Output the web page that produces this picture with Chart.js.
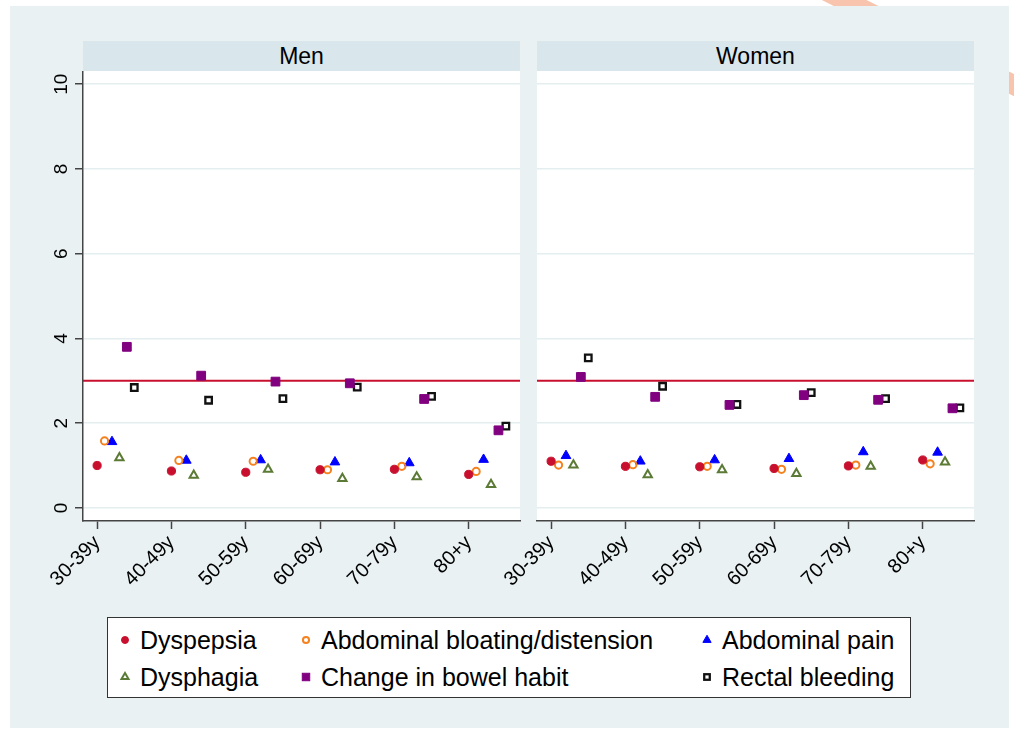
<!DOCTYPE html>
<html>
<head>
<meta charset="utf-8">
<script src="https://cdn.jsdelivr.net/npm/chart.js@4.4.1/dist/chart.umd.min.js"></script>
<style>
    body { margin: 0; width: 1014px; height: 730px; background: #fff; position: relative; overflow: hidden;
           font-family: "Liberation Sans", Arial, sans-serif; }
    #band { position: absolute; left: 780px; top: 33px; width: 300px; height: 20px; background: #f9c4ad;
            transform: rotate(26.6deg); }
    #frame { position: absolute; left: 10px; top: 6px; width: 999px; height: 722px; background: #e9f1f3; }
    .strip { position: absolute; top: 41px; height: 30px; background: #d9e6ec; color: #000;
             font-size: 23px; line-height: 30px; text-align: center; }
    .panel { position: absolute; top: 71px; height: 450px; background: #fff; }
    canvas { position: absolute; top: 71px; }
    #legend { position: absolute; left: 107px; top: 617px; width: 802px; height: 79px; background: #fff;
              border: 1.5px solid #333; }
    .item { position: absolute; font-size: 25px; color: #000; line-height: 28px; white-space: nowrap; }
    .item svg { position: absolute; left: -22px; top: 7px; }
</style>
</head>
<body>
<div id="band"></div>
<div id="frame"></div>
<div class="strip" style="left:83px;width:437px">Men</div>
<div class="strip" style="left:537px;width:437px">Women</div>
<div class="panel" style="left:83px;width:437px"></div>
<div class="panel" style="left:537px;width:437px"></div>
<canvas id="menChart" width="510" height="540" style="left:20px"></canvas>
<canvas id="womenChart" width="494" height="540" style="left:490px"></canvas>
<div id="legend"></div>

<script>
// valores
var ageGroups = ['30-39y', '40-49y', '50-59y', '60-69y', '70-79y', '80+y'];
var yTicks = [0, 2, 4, 6, 8, 10];
var refLine = 3;

var seriesNames = ['Dyspepsia', 'Abdominal bloating/distension', 'Abdominal pain',
                   'Dysphagia', 'Change in bowel habit', 'Rectal bleeding'];

var menDyspepsia = [1.00, 0.87, 0.84, 0.90, 0.91, 0.79];
var menBloating = [1.58, 1.12, 1.10, 0.90, 0.98, 0.86];
var menPain = [1.56, 1.12, 1.13, 1.08, 1.06, 1.14];
var menDysphagia = [1.18, 0.77, 0.91, 0.69, 0.73, 0.55];
var menBowel = [3.80, 3.12, 2.98, 2.94, 2.57, 1.83];
var menRectal = [2.84, 2.54, 2.58, 2.85, 2.63, 1.93];

var womenDyspepsia = [1.10, 0.98, 0.97, 0.93, 0.99, 1.13];
var womenBloating = [1.01, 1.02, 0.98, 0.91, 1.01, 1.04];
var womenPain = [1.23, 1.10, 1.13, 1.16, 1.32, 1.31];
var womenDysphagia = [1.01, 0.78, 0.90, 0.81, 0.98, 1.08];
var womenBowel = [3.09, 2.62, 2.43, 2.66, 2.55, 2.35];
var womenRectal = [3.54, 2.87, 2.44, 2.72, 2.58, 2.36];

// estilos de cada serie (Stata-like)
var styles = [
    { pointStyle: 'circle', radius: 4.1, bg: '#c8102e', border: '#c8102e', bw: 1 },
    { pointStyle: 'circle', radius: 3.6, bg: 'rgba(0,0,0,0)', border: '#f5821f', bw: 2 },
    { pointStyle: 'triangle', radius: 5.6, bg: '#0000ff', border: '#0000ff', bw: 1 },
    { pointStyle: 'triangle', radius: 4.8, bg: 'rgba(0,0,0,0)', border: '#5b7a35', bw: 2 },
    { pointStyle: 'rect', radius: 6.2, bg: '#800080', border: '#800080', bw: 1 },
    { pointStyle: 'rect', radius: 4.6, bg: '#ffffff', border: '#111111', bw: 2.3 }
];
var dodge = 0.1;
var fontFamily = '"Liberation Sans", Arial, sans-serif';

function buildDatasets(seriesList) {
    return seriesList.map(function (values, k) {
        var st = styles[k];
        return {
            label: seriesNames[k],
            data: values.map(function (v, i) { return { x: i + k * dodge, y: v }; }),
            pointStyle: st.pointStyle,
            pointRadius: st.radius,
            pointBackgroundColor: st.bg,
            pointBorderColor: st.border,
            pointBorderWidth: st.bw,
            showLine: false
        };
    });
}

// linea de referencia en y = 3
var refLinePlugin = {
    id: 'refLine',
    beforeDatasetsDraw: function (chart) {
        var ctx = chart.ctx, area = chart.chartArea;
        var py = chart.scales.y.getPixelForValue(refLine);
        ctx.save();
        ctx.strokeStyle = '#c8102e';
        ctx.lineWidth = 2;
        ctx.beginPath();
        ctx.moveTo(area.left, py);
        ctx.lineTo(area.right, py);
        ctx.stroke();
        ctx.restore();
    }
};

// etiquetas del eje y giradas 90 grados
var yLabelsPlugin = {
    id: 'yLabels',
    afterDraw: function (chart) {
        var ctx = chart.ctx, scale = chart.scales.y;
        ctx.save();
        ctx.font = '19px ' + fontFamily;
        ctx.fillStyle = '#000';
        ctx.textAlign = 'center';
        ctx.textBaseline = 'alphabetic';
        scale.ticks.forEach(function (t) {
            var py = scale.getPixelForValue(t.value);
            ctx.save();
            ctx.translate(chart.chartArea.left - 16, py);
            ctx.rotate(-Math.PI / 2);
            ctx.fillText(String(t.value), 0, 0);
            ctx.restore();
        });
        ctx.restore();
    }
};

function makeChart(canvasId, seriesList, showYAxis) {
    var ctx = document.getElementById(canvasId).getContext('2d');
    return new Chart(ctx, {
        type: 'scatter',
        data: { datasets: buildDatasets(seriesList) },
        options: {
            responsive: false,
            animation: false,
            devicePixelRatio: 1,
            layout: { autoPadding: false, padding: { left: 0, right: 10, top: 0, bottom: 0 } },
            plugins: { legend: { display: false }, tooltip: { enabled: false } },
            scales: {
                x: {
                    type: 'linear',
                    min: -0.19,
                    max: 5.69,
                    afterBuildTicks: function (s) {
                        s.ticks = ageGroups.map(function (_, i) { return { value: i }; });
                    },
                    afterFit: function (s) { s.height = 90; },
                    ticks: {
                        autoSkip: false,
                        minRotation: 45,
                        maxRotation: 45,
                        color: '#000',
                        padding: 2,
                        font: { size: 20, family: fontFamily },
                        callback: function (v) { return ageGroups[v]; }
                    },
                    grid: { drawOnChartArea: false, tickLength: 8, tickColor: '#444', tickWidth: 1.5 },
                    border: { display: true, color: '#444', width: 1.5 }
                },
                y: {
                    type: 'linear',
                    min: -0.31,
                    max: 10.31,
                    afterBuildTicks: function (s) {
                        s.ticks = yTicks.map(function (v) { return { value: v }; });
                    },
                    afterFit: function (s) { s.width = showYAxis ? 63 : 47; },
                    ticks: { display: false },
                    grid: {
                        color: '#e4edf0',
                        lineWidth: 1.5,
                        drawTicks: showYAxis,
                        tickLength: 8,
                        tickColor: '#444',
                        tickWidth: 1.5
                    },
                    border: { display: showYAxis, color: '#444', width: 1.5 }
                }
            }
        },
        plugins: showYAxis ? [refLinePlugin, yLabelsPlugin] : [refLinePlugin]
    });
}

makeChart('menChart', [menDyspepsia, menBloating, menPain, menDysphagia, menBowel, menRectal], true);
makeChart('womenChart', [womenDyspepsia, womenBloating, womenPain, womenDysphagia, womenBowel, womenRectal], false);

// leyenda en html con marcadores svg
function markerSvg(st) {
    var s = 14, c = 7, path;
    var fill = st.bg === 'rgba(0,0,0,0)' ? 'none' : st.bg;
    var r = st.radius * 0.85;
    if (st.pointStyle === 'circle') {
        path = '<circle cx="' + c + '" cy="' + c + '" r="' + r + '"/>';
    } else if (st.pointStyle === 'triangle') {
        var h = r * 1.5, w = r * 0.866;
        path = '<polygon points="' + c + ',' + (c - r) + ' ' + (c + w) + ',' + (c + h - r) + ' ' + (c - w) + ',' + (c + h - r) + '"/>';
    } else {
        var a = r * 0.707;
        path = '<rect x="' + (c - a) + '" y="' + (c - a) + '" width="' + (2 * a) + '" height="' + (2 * a) + '"/>';
    }
    return '<svg width="' + s + '" height="' + s + '" style="fill:' + fill + ';stroke:' + st.border +
        ';stroke-width:' + st.bw + '">' + path + '</svg>';
}

var legend = document.getElementById('legend');
var colLeft = [32, 213, 614];
var rowTop = [8, 45];
seriesNames.forEach(function (name, k) {
    var div = document.createElement('div');
    div.className = 'item';
    div.style.left = colLeft[k % 3] + 'px';
    div.style.top = rowTop[Math.floor(k / 3)] + 'px';
    div.innerHTML = markerSvg(styles[k]) + name;
    legend.appendChild(div);
});
</script>
</body>
</html>
